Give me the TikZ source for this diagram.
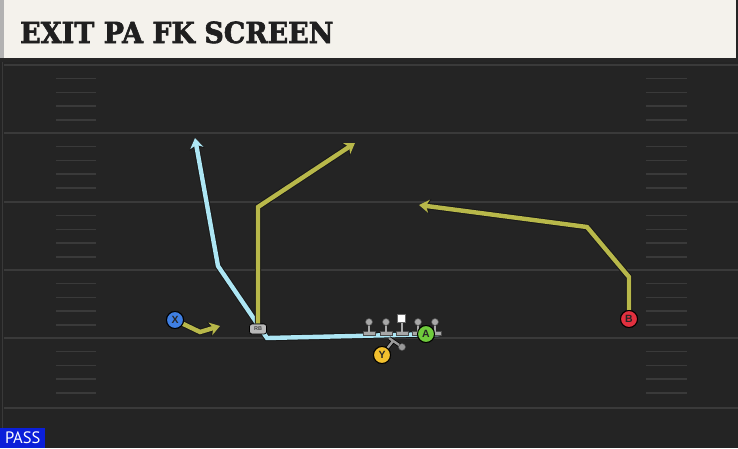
\documentclass[tikz,border=0pt]{standalone}
\usepackage{fontspec}
\usetikzlibrary{arrows.meta}
\newfontfamily\titlefont{DejaVu Serif}[BoldFeatures={FakeBold=2.2}]
\newfontfamily\passfont{PT Sans}
\newfontfamily\plfont{Liberation Sans}
\definecolor{fieldbg}{HTML}{242424}
\definecolor{titlebg}{HTML}{F4F2EC}
\definecolor{yardc}{HTML}{3A3A3A}
\definecolor{olivec}{HTML}{B8B84A}
\definecolor{cyanc}{HTML}{ADE6F4}
\definecolor{passblue}{HTML}{0B1FD9}
\definecolor{xblue}{HTML}{3F7FE3}
\definecolor{bred}{HTML}{E2303F}
\definecolor{agreen}{HTML}{6FCB3C}
\definecolor{yyellow}{HTML}{F2C02E}
\definecolor{lmgray}{HTML}{A8A8A8}
\tikzset{
  yard/.style={draw=yardc, line width=2pt},
  hashm/.style={draw=yardc, line width=1.5pt},
  routebase/.style={line width=4.4pt, line join=miter,
    -{Stealth[inset=3pt,length=10pt,width=13pt]}},
  yroute/.style={routebase, draw=olivec,
    preaction={draw=black!90, line width=6.4pt, -{Stealth[inset=3pt,length=11.5pt,width=15pt]}}},
  croute/.style={routebase, draw=cyanc,
    preaction={draw=black!90, line width=6.4pt, -{Stealth[inset=3pt,length=11.5pt,width=15pt]}}},
  player/.style={circle, draw=black, line width=1pt, minimum size=17pt, inner sep=0pt,
    font=\plfont\bfseries\fontsize{10.5}{10.5}\selectfont, text=black!85},
  rbstyle/.style={draw=black, fill=gray!55, rounded corners=2.5pt, line width=0.7pt,
    minimum width=17pt, minimum height=10pt, inner sep=0pt,
    font=\plfont\bfseries\fontsize{5.5}{5.5}\selectfont, text=black!75},
  lmknob/.style={circle, fill=lmgray, draw=black!70, line width=0.6pt, minimum size=7pt, inner sep=0pt},
  blockc/.style={draw=gray!80, line width=2.4pt},
}
\begin{document}
\begin{tikzpicture}[x=1pt,y=-1pt]
\useasboundingbox (0,0) rectangle (738,448);
\fill[fieldbg] (0,0) rectangle (738,448);
% title bar
\fill[titlebg] (0,0) rectangle (736,58);
\fill[gray!60] (0,0) rectangle (4,58);
\fill[black!85] (0,58) rectangle (738,62);
\node[anchor=base west, inner sep=0pt, text=black!88] (title) at (20,43)
  {\scalebox{0.93}[1]{\titlefont\bfseries\fontsize{29}{29}\selectfont EXIT PA FK SCREEN}};
% field edge
\draw[draw=gray!45!black, line width=1pt] (2,62) -- (2,448);
% yard lines and hash marks
\foreach \yy in {65,133,202,270,338,408} {\draw[yard] (4,\yy) -- (738,\yy);}
\foreach \yy in {65,133,202,270,338} {
  \foreach \k in {1,2,3,4} {
    \draw[hashm] (56,\yy+\k*13.7) -- (96,\yy+\k*13.7);
    \draw[hashm] (646,\yy+\k*13.7) -- (687,\yy+\k*13.7);
  }
}
% players (named first, redrawn on top later)
\node[player, fill=xblue] (X) at (175,320) {X};
\node[player, fill=bred] (B) at (629,319) {B};
\node[player, fill=agreen] (A) at (426,334) {A};
\node[player, fill=yyellow] (Y) at (382,355) {Y};
\node[rbstyle] (RB) at (258,329) {RB};
% route coordinates
\coordinate (x1) at (200,332);
\coordinate (x2) at (220,326);
\coordinate (r1) at (258,207);
\coordinate (r2) at (355,143);
\coordinate (c0) at (440,334);
\coordinate (c1) at (267,338);
\coordinate (c2) at (218,266);
\coordinate (c3) at (195,138);
\coordinate (b1) at (629,277);
\coordinate (b2) at (587,227);
\coordinate (b3) at (419,205);
\coordinate (yb1) at (393,341);
\coordinate (yb2) at (389,338);
\coordinate (yb3) at (402,347);
% routes
\draw[croute] (c0) -- (c1) -- (c2) -- (c3);
\draw[yroute] (X) -- (x1) -- (x2);
\draw[yroute] (RB.north -| r1) -- (r1) -- (r2);
\draw[yroute] (B) -- (b1) -- (b2) -- (b3);
% linemen
\foreach \xx/\nm in {369/lt,386/lg,418/rg,435/rt} {
  \fill[lmgray, draw=black!70, line width=0.5pt] (\xx-6,331) rectangle (\xx+6,335);
  \draw[lmgray, line width=2.6pt] (\xx,322) -- (\xx,332);
  \node[lmknob] (\nm) at (\xx,322) {};
}
\fill[lmgray, draw=black!70, line width=0.5pt] (396,331) rectangle (408,335);
\draw[lmgray, line width=2.6pt] (402,320) -- (402,332);
\node[fill=white, draw=black!60, line width=0.5pt, minimum size=8pt, inner sep=0pt] (C) at (401,318) {};
% Y block
\draw[draw=black, line width=3.8pt] (Y) -- (yb1) (yb2) -- (yb3);
\draw[blockc] (Y) -- (yb1) (yb2) -- (yb3);
\node[circle, fill=gray!80, draw=black!70, line width=0.5pt, minimum size=7pt, inner sep=0pt] (yd) at (yb3) {};
% players on top
\node[player, fill=xblue] at (X) {X};
\node[player, fill=bred] at (B) {B};
\node[player, fill=agreen] at (A) {A};
\node[player, fill=yyellow] at (Y) {Y};
\node[rbstyle] at (RB) {RB};
% PASS label
\node[anchor=south west, fill=passblue, text=white, minimum width=45pt, minimum height=20pt,
  inner sep=0pt, font=\passfont\fontsize{16.5}{16.5}\selectfont] (pass) at (0,448) {PASS};
\end{tikzpicture}
\end{document}
